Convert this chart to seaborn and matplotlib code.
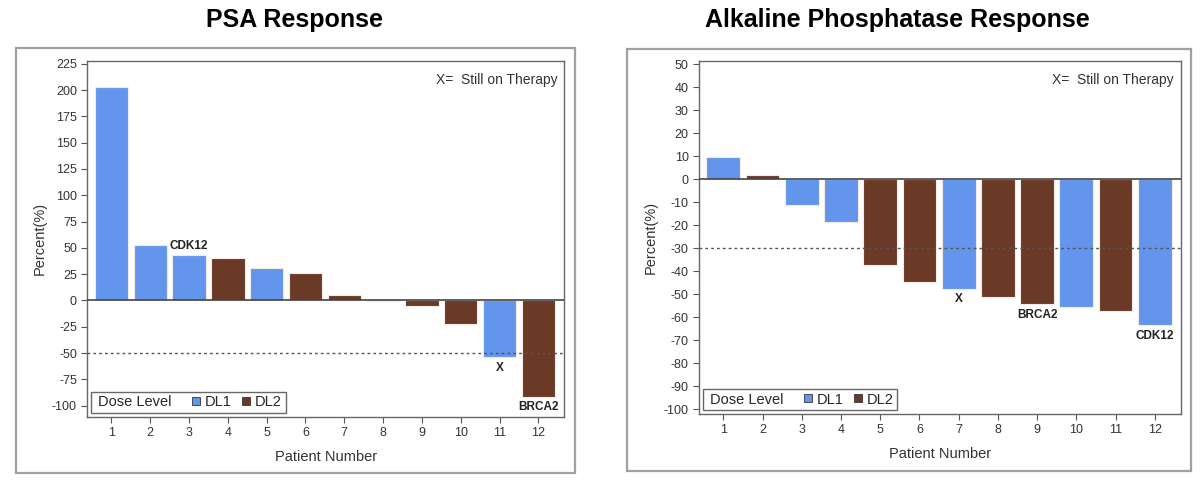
import numpy as np
import pandas as pd
import matplotlib
matplotlib.use("Agg")
import matplotlib.pyplot as plt
from matplotlib.lines import Line2D
from matplotlib.patches import Rectangle
import seaborn as sns

# ── Data ──────────────────────────────────────────────────────────────────────
PATIENTS = [str(i) for i in range(1, 13)]

PSA_VALUES = [203, 53, 43, 40, 31, 26, 5, -1, -5, -22.5, -54, -91.5]
PSA_DOSE   = ["DL1", "DL1", "DL1", "DL2", "DL1", "DL2",
              "DL2", "DL2", "DL2", "DL2", "DL1", "DL2"]
PSA_NOTES  = {"3": "CDK12", "11": "X", "12": "BRCA2"}

ALP_VALUES = [9.6, 1.7, -11.2, -18.7, -37.1, -44.5,
              -47.5, -51, -54.4, -55.7, -57.4, -63.5]
ALP_DOSE   = ["DL1", "DL2", "DL1", "DL1", "DL2", "DL2",
              "DL1", "DL2", "DL2", "DL1", "DL2", "DL1"]
ALP_NOTES  = {"7": "X", "9": "BRCA2", "12": "CDK12"}

PALETTE = {"DL1": "#6495ED", "DL2": "#6B3A26"}
AXIS_GREY = "#555555"

sns.set_style("ticks")
plt.rcParams["font.family"] = ["Liberation Sans", "DejaVu Sans"]
plt.rcParams["axes.unicode_minus"] = False

fig = plt.figure(figsize=(12, 4.82), dpi=100)
fig.patch.set_facecolor("white")

# outer panel frames
for (x0, y0, x1, y1) in [(15.7, 48.3, 575, 473), (627.3, 49, 1190.7, 471)]:
    fig.patches.append(Rectangle((x0 / 1200, 1 - y1 / 482), (x1 - x0) / 1200,
                                 (y1 - y0) / 482, transform=fig.transFigure,
                                 fill=False, edgecolor="#a0a0a0", lw=1.6))

ax_psa = fig.add_axes([0.0728, 0.1355, 0.3975, 0.7386])
ax_alp = fig.add_axes([0.5825, 0.1417, 0.4017, 0.7324])


def waterfall(ax, values, dose, notes, ref, ylim, yticks, title, title_x):
    df = pd.DataFrame({"Patient": PATIENTS, "Value": values, "Dose": dose})
    sns.barplot(data=df, x="Patient", y="Value", hue="Dose", order=PATIENTS,
                hue_order=["DL1", "DL2"], palette=PALETTE, dodge=False,
                saturation=1, width=0.86, edgecolor="#f3ebe4", linewidth=0.8,
                legend=False, ax=ax)
    ax.set_xlim(-0.62, 11.67)
    ax.set_ylim(*ylim)
    ax.set_yticks(yticks)
    ax.axhline(0, color="#444444", lw=1.2, zorder=3)
    ax.axhline(ref, color="#555555", lw=1.0, ls=(0, (2, 2.2)), zorder=3)

    span = ylim[1] - ylim[0]
    for pat, txt in notes.items():
        i = PATIENTS.index(pat)
        v = values[i]
        if v >= 0:
            ax.text(i, v + span * 0.008, txt, ha="center", va="bottom",
                    fontsize=8.5, fontweight="bold", color="#222222")
        else:
            ax.text(i, v - span * 0.012, txt, ha="center", va="top",
                    fontsize=8.5, fontweight="bold", color="#222222")

    ax.text(0.985, 0.965, "X=  Still on Therapy", transform=ax.transAxes,
            ha="right", va="top", fontsize=10, color="#333333")

    handles = [
        Line2D([], [], linestyle="none", label="Dose Level"),
        Line2D([], [], marker="s", linestyle="none", markersize=6,
               markerfacecolor=PALETTE["DL1"], markeredgecolor="#333333",
               markeredgewidth=0.6, label="DL1"),
        Line2D([], [], marker="s", linestyle="none", markersize=6,
               markerfacecolor=PALETTE["DL2"], markeredgecolor="#333333",
               markeredgewidth=0.6, label="DL2"),
    ]
    leg = ax.legend(handles=handles, ncol=3, loc="lower left",
                    bbox_to_anchor=(0.008, 0.01), fontsize=10.5,
                    frameon=True, fancybox=False, handlelength=0.6,
                    handletextpad=0.3, columnspacing=0.7, borderpad=0.25,
                    borderaxespad=0.0)
    leg.get_frame().set_edgecolor("#444444")
    leg.get_frame().set_linewidth(1.0)
    # pull the "Dose Level" caption left over its empty handle slot
    leg.get_texts()[0].set_position((-10, 0))

    ax.set_xlabel("Patient Number", fontsize=10.5, color="#333333", labelpad=8)
    ax.set_ylabel("Percent(%)", fontsize=10.5, color="#333333", labelpad=4)
    ax.tick_params(axis="both", labelsize=9, colors=AXIS_GREY,
                   labelcolor="#333333", length=4, width=0.8)
    for sp in ax.spines.values():
        sp.set_visible(True)
        sp.set_color("#666666")
        sp.set_linewidth(1.0)

    fig.text(title_x, 1 - 20 / 482, title, ha="center", va="center",
             fontsize=18, fontweight="bold", color="black")


waterfall(ax_psa, PSA_VALUES, PSA_DOSE, PSA_NOTES, -50, (-110.5, 227.9),
          np.arange(-100, 226, 25), "PSA Response", 294 / 1200)
waterfall(ax_alp, ALP_VALUES, ALP_DOSE, ALP_NOTES, -30, (-101.9, 51.6),
          np.arange(-100, 51, 10), "Alkaline Phosphatase Response", 897 / 1200)

fig.savefig("out.png", dpi=100, facecolor="white")
plt.close(fig)
